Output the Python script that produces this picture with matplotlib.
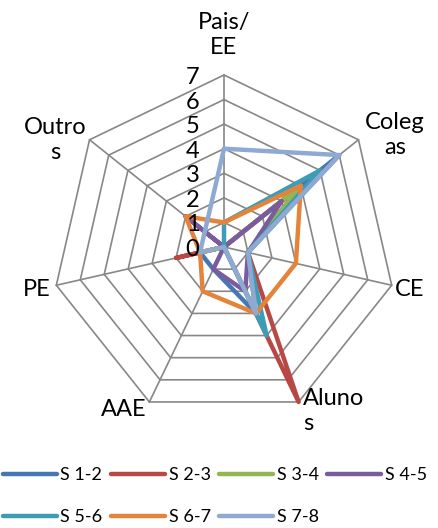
import numpy as np
import matplotlib
matplotlib.use("Agg")
import matplotlib.pyplot as plt

# categories around the web, clockwise from the top
categories = ["Pais/\nEE", "Coleg\nas", "CE", "Aluno\ns", "AAE", "PE", "Outro\ns"]
tick_values = [0, 1, 2, 3, 4, 5, 6, 7]

series_names = ["S 1-2", "S 2-3", "S 3-4", "S 4-5", "S 5-6", "S 6-7", "S 7-8"]
s12 = [0, 6, 1, 3, 1, 1, 0]
s23 = [0, 4, 1, 7, 0, 2, 0]
s34 = [0, 4, 1, 3, 0, 1, 0]
s45 = [0, 3, 1, 2, 1, 0, 2]
s56 = [1, 5, 1, 4, 0, 0, 0]
s67 = [1, 4, 3, 3, 2, 1, 2]
s78 = [4, 6, 1, 3, 0, 1, 1]
series = [s12, s23, s34, s45, s56, s67, s78]
colors = ["#4677B5", "#B94744", "#94B553", "#7A5C9E", "#3D9DB7", "#E3843A", "#8EAAD2"]

W, H, DPI = 438, 528, 100
cx, cy, unit = 224, 247, 24.57   # pixel position of the centre and pixels per unit

plt.rcParams["font.family"] = ["Lato", "DejaVu Sans"]

fig = plt.figure(figsize=(W / DPI, H / DPI), dpi=DPI)
ax = fig.add_axes([0, 0, 1, 1])
ax.set_xlim(-cx / unit, (W - cx) / unit)
ax.set_ylim((cy - H) / unit, cy / unit)
ax.axis("off")

n = len(categories)
ang = np.arange(n) * 2 * np.pi / n
sx, sy = np.sin(ang), np.cos(ang)

# heptagon grid and spokes
rmax = tick_values[-1]
for r in tick_values[1:]:
    ax.plot(np.append(sx, sx[0]) * r, np.append(sy, sy[0]) * r,
            color="#878787", lw=1.2, zorder=1)
for i in range(n):
    ax.plot([0, sx[i] * rmax], [0, sy[i] * rmax], color="#878787", lw=1.2, zorder=1)

# value labels on the vertical axis
for v in tick_values:
    ax.text(-1.0, v - 0.1, str(v), ha="right", va="center", fontsize=17, zorder=5)

# category labels (pixel positions)
label_pos = [(224, 35, "center"), (395, 135, "center"), (410, 290, "center"),
             (303, 411, "left"), (124, 410, "center"), (37, 290, "center"),
             (55, 140, "center")]
for lab, (px, py, ha) in zip(categories, label_pos):
    ax.text((px - cx) / unit, (cy - py) / unit, lab, ha=ha, va="center",
            multialignment=ha, fontsize=17, linespacing=1.25, zorder=5)

handles = []
for k, (vals, c, name) in enumerate(zip(series, colors, series_names)):
    v = np.array(vals + vals[:1], dtype=float)
    xs = np.append(sx, sx[0]) * v
    ys = np.append(sy, sy[0]) * v
    ln, = ax.plot(xs, ys, color=c, lw=3.2, solid_joinstyle="round",
                  solid_capstyle="round", zorder=2 + k * 0.1, label=name)
    handles.append(ln)

# legend filled row by row (matplotlib fills columns first)
order = [0, 4, 1, 5, 2, 6, 3]
leg = fig.legend(handles=[handles[i] for i in order], loc="lower left",
                 bbox_to_anchor=(0.0, 0.0), ncol=4, frameon=False, fontsize=13,
                 handlelength=3.0, handletextpad=0.2, columnspacing=0.45,
                 labelspacing=1.45, borderaxespad=0.0, borderpad=0.15)

fig.savefig("out.png", dpi=DPI)
